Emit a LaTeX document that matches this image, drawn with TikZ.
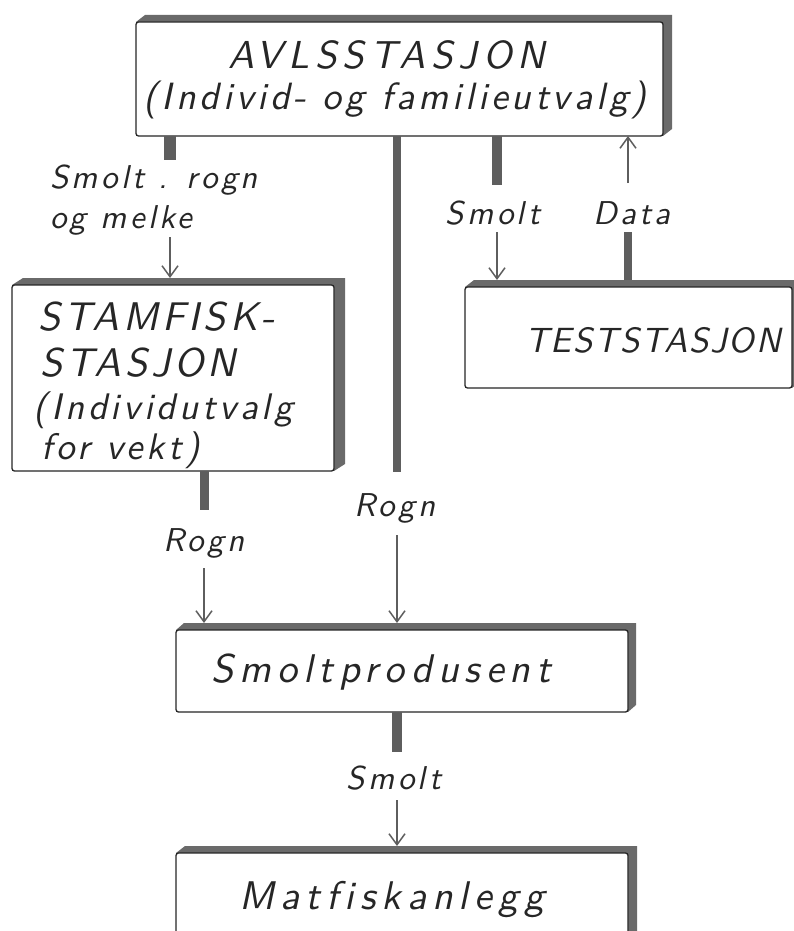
\documentclass[tikz,border=0pt]{standalone}
\usepackage{fontspec}
\newfontfamily\lett{lmsans10-oblique.otf}[LetterSpace=10,Ligatures=NoCommon]
\newfontfamily\lettw{lmsans10-oblique.otf}[LetterSpace=15,Ligatures=NoCommon]
\newfontfamily\lettn{lmsans10-oblique.otf}[LetterSpace=5,Ligatures=NoCommon]
\usetikzlibrary{arrows.meta,backgrounds,calc}
\definecolor{ink}{HTML}{262626}
\definecolor{boxshade}{HTML}{6A6A6A}
\definecolor{stemc}{HTML}{5E5E5E}
\newcommand\boxshadow[3]{%
  \fill[boxshade] (#1.north west) -- ++(#2,-#3) -- ($(#1.north east)+(#2,-#3)$)
    -- ($(#1.south east)+(#2,-#3)$) -- (#1.south east) -- cycle;}
\begin{document}
\begin{tikzpicture}[x=1pt,y=-1pt,
  box/.style={draw=ink, line width=1.3pt, fill=white, rounded corners=2.5pt,
    inner sep=0pt, outer sep=0pt, anchor=north west},
  stem/.style={draw=stemc, line width=#1},
  stem/.default=10pt,
  arr/.style={draw=stemc, line width=2pt,
    -{Straight Barb[length=11pt,width=16pt,line width=1.5pt]}},
  txt/.style={text=ink, inner sep=0pt, font=\lett\fontsize{#1}{#1}\selectfont},
  txt/.default=33,
  txtw/.style={text=ink, inner sep=0pt, font=\lettw\fontsize{#1}{#1}\selectfont},
  txtn/.style={text=ink, inner sep=0pt, font=\lettn\fontsize{#1}{#1}\selectfont}
]
\useasboundingbox (0,0) rectangle (793,931);

% boxes
\node[box, minimum width=527pt, minimum height=114pt] (avls) at (136,22) {};
\node[box, minimum width=322pt, minimum height=186pt] (stam) at (12,285) {};
\node[box, minimum width=327pt, minimum height=101pt] (test) at (465,287) {};
\node[box, minimum width=452pt, minimum height=82pt] (smp) at (176,630) {};
\node[box, minimum width=452pt, minimum height=100pt] (mat) at (176,853) {};

\begin{scope}[on background layer]
  \boxshadow{avls}{9}{7}
  \boxshadow{stam}{11}{7}
  \boxshadow{test}{9}{7}
  \boxshadow{smp}{8}{7}
  \boxshadow{mat}{9}{7}
\end{scope}

% box texts
\node[txtw=39] (t1) at (387,55) {AVLSSTASJON};
\node[txt=38] (t2) at (395,100) {(Individ- og familieutvalg)};
\node[txt=40, anchor=west] (t3) at (38,317) {STAMFISK-};
\node[txt=40, anchor=west] (t4) at (40,363) {STASJON};
\node[txt=37, anchor=west] (t5) at (33,410) {(Individutvalg};
\node[txt=37, anchor=west] (t6) at (41,450) {for vekt)};
\node[txtn=35] (t7) at (653,340) {TESTSTASJON};
\node[txtw=40] (t8) at (381,672) {Smoltprodusent};
\node[txtw=40] (t9) at (392,900) {Matfiskanlegg};

% labels
\node[txt, anchor=west] (l1) at (50,180) {Smolt . rogn};
\node[txt, anchor=west] (l2) at (50,220) {og melke};
\node[txt] (l3) at (493,213) {Smolt};
\node[txt] (l4) at (632,213) {Data};
\node[txt] (l5) at (204,543) {Rogn};
\node[txt] (l6) at (395,508) {Rogn};
\node[txt] (l7) at (394,778) {Smolt};

% connectors
\coordinate (s1) at (170,160);
\coordinate (m1) at (397,472);
\coordinate (s3) at (497,185);
\coordinate (d1) at (628,183);
\coordinate (a1) at (170,237);
\coordinate (s4) at (204,510);
\coordinate (a2) at (204,568);
\coordinate (a3) at (397,535);
\coordinate (a4) at (497,232);
\coordinate (d2) at (628,232);
\coordinate (s5) at (397,752);
\coordinate (a5) at (397,800);

\draw[stem=12pt] (avls.south -| s1) -- (s1);
\draw[stem=8pt] (avls.south -| m1) -- (m1);
\draw[stem=10pt] (avls.south -| s3) -- (s3);
\draw[arr, line width=2.6pt] (d1) -- (avls.south -| d1);
\draw[arr] (a1) -- ($(stam.north -| a1)+(0,-7)$);
\draw[stem=9pt] (stam.south -| s4) -- (s4);
\draw[arr] (a2) -- ($(smp.north -| a2)+(0,-7)$);
\draw[arr] (a3) -- ($(smp.north -| a3)+(0,-7)$);
\draw[arr] (a4) -- ($(test.north -| a4)+(0,-7)$);
\draw[stem=8pt] ($(test.north -| d2)+(0,-7)$) -- (d2);
\draw[stem=10pt] (smp.south -| s5) -- (s5);
\draw[arr] (a5) -- ($(mat.north -| a5)+(0,-7)$);
\end{tikzpicture}
\end{document}
